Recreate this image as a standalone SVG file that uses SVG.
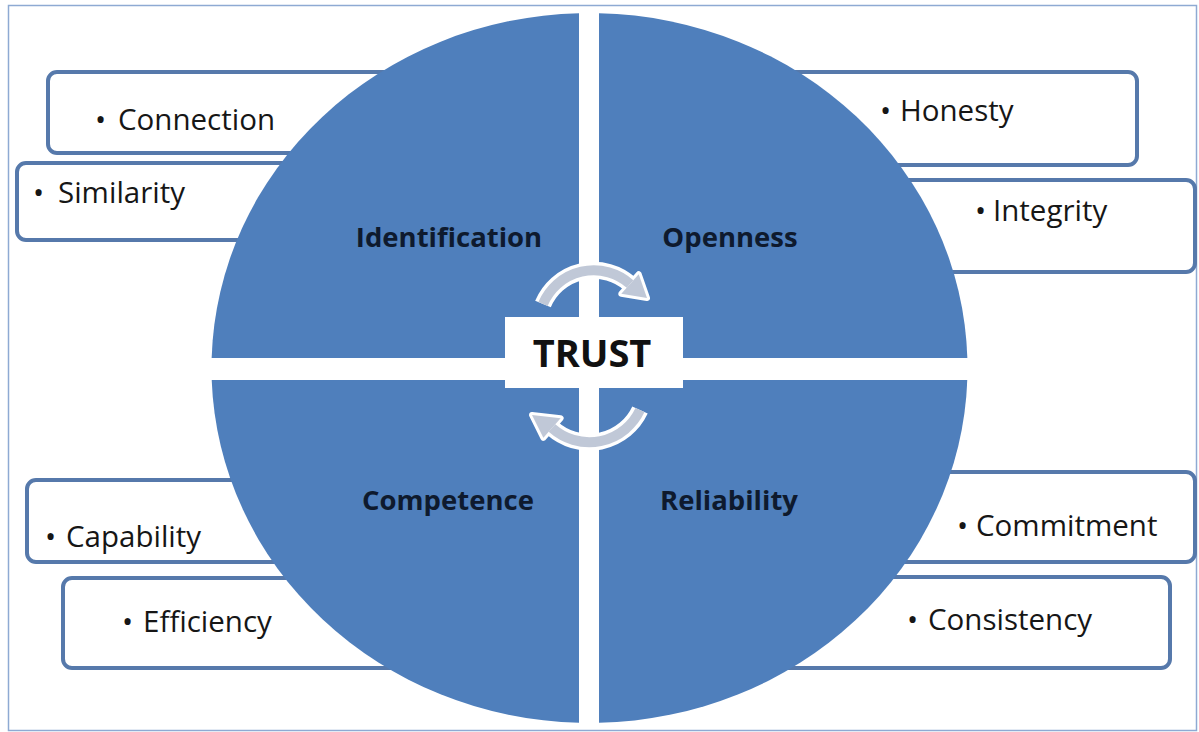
<svg xmlns="http://www.w3.org/2000/svg" width="1199" height="732" viewBox="0 0 1199 732">
  <style>
    .frame { fill: none; stroke: #8eaad3; stroke-width: 1.5; }
    .box { fill: #ffffff; stroke: #5679ab; stroke-width: 4; }
    .quad { fill: #4f7fbc; }
    .item { font-family: "Open Sans", "Liberation Sans", sans-serif; font-size: 29.5px; fill: #161616; }
    .label { font-family: "Open Sans", "Liberation Sans", sans-serif; font-size: 27.5px; font-weight: bold; fill: #0e1a2e; text-anchor: middle; }
    .core { font-family: "Open Sans", "Liberation Sans", sans-serif; font-size: 38px; font-weight: bold; fill: #111111; text-anchor: middle; }
    .arc-edge { fill: none; stroke: #ffffff; stroke-width: 17; }
    .arc-body { fill: none; stroke: #c0c8d7; stroke-width: 10; }
    .head-edge { fill: #ffffff; stroke: #ffffff; stroke-width: 6; stroke-linejoin: round; }
    .head-body { fill: #c0c8d7; }
  </style>

  <rect width="1199" height="732" fill="#ffffff"/>
  <rect class="frame" x="8.5" y="5.5" width="1188" height="725"/>

  <!-- attribute boxes, partly tucked under the circle -->
  <g id="box-connection">
    <rect class="box" x="48" y="72" width="372" height="81" rx="9"/>
    <text class="item" x="95" y="130">•<tspan x="118">Connection</tspan></text>
  </g>
  <g id="box-similarity">
    <rect class="box" x="17" y="163" width="363" height="77" rx="9"/>
    <text class="item" x="33" y="203">•<tspan x="58">Similarity</tspan></text>
  </g>
  <g id="box-honesty">
    <rect class="box" x="760" y="72" width="377" height="93" rx="9"/>
    <text class="item" x="880" y="121">•<tspan x="900">Honesty</tspan></text>
  </g>
  <g id="box-integrity">
    <rect class="box" x="860" y="180" width="335" height="92" rx="9"/>
    <text class="item" x="975" y="221">•<tspan x="993">Integrity</tspan></text>
  </g>
  <g id="box-capability">
    <rect class="box" x="27" y="480" width="353" height="82" rx="9"/>
    <text class="item" x="45" y="547">•<tspan x="66">Capability</tspan></text>
  </g>
  <g id="box-efficiency">
    <rect class="box" x="63" y="578" width="357" height="90" rx="9"/>
    <text class="item" x="122" y="632">•<tspan x="143">Efficiency</tspan></text>
  </g>
  <g id="box-commitment">
    <rect class="box" x="860" y="472" width="335" height="90" rx="9"/>
    <text class="item" x="957" y="536">•<tspan x="976">Commitment</tspan></text>
  </g>
  <g id="box-consistency">
    <rect class="box" x="760" y="577" width="410" height="91" rx="9"/>
    <text class="item" x="907" y="630">•<tspan x="928">Consistency</tspan></text>
  </g>

  <!-- four quadrants of the trust circle -->
  <g id="quad-identification">
    <path class="quad" d="M579,358 L211.65,358 A378,355 0 0,1 579,13.14 Z"/>
    <text class="label" x="449" y="247">Identification</text>
  </g>
  <g id="quad-openness">
    <path class="quad" d="M599,358 L599,13.14 A378,355 0 0,1 967.35,358 Z"/>
    <text class="label" x="730" y="247">Openness</text>
  </g>
  <g id="quad-competence">
    <path class="quad" d="M579,380 L579,722.86 A378,355 0 0,1 211.72,380 Z"/>
    <text class="label" x="448" y="510">Competence</text>
  </g>
  <g id="quad-reliability">
    <path class="quad" d="M599,380 L967.28,380 A378,355 0 0,1 599,722.86 Z"/>
    <text class="label" x="729" y="510">Reliability</text>
  </g>

  <!-- cycle arrows around the centre -->
  <g id="connectors">
    <g id="arrow-top">
      <path class="arc-edge" d="M543,304 A55,55 0 0,1 630,284"/>
      <polygon class="head-edge" points="638.7,274.3 647,298 621.3,293.7"/>
      <path class="arc-body" d="M543,304 A55,55 0 0,1 630,284"/>
      <polygon class="head-body" points="638.7,274.3 647,298 621.3,293.7"/>
    </g>
    <g id="arrow-bottom">
      <path class="arc-edge" d="M640,410 A56,56 0 0,1 552,428"/>
      <polygon class="head-edge" points="560.6,418.2 532,415 543.4,437.8"/>
      <path class="arc-body" d="M640,410 A56,56 0 0,1 552,428"/>
      <polygon class="head-body" points="560.6,418.2 532,415 543.4,437.8"/>
    </g>
  </g>

  <!-- centre label -->
  <g id="trust">
    <rect x="505" y="317" width="178" height="71" fill="#ffffff"/>
    <text class="core" x="592" y="367">TRUST</text>
  </g>
</svg>
